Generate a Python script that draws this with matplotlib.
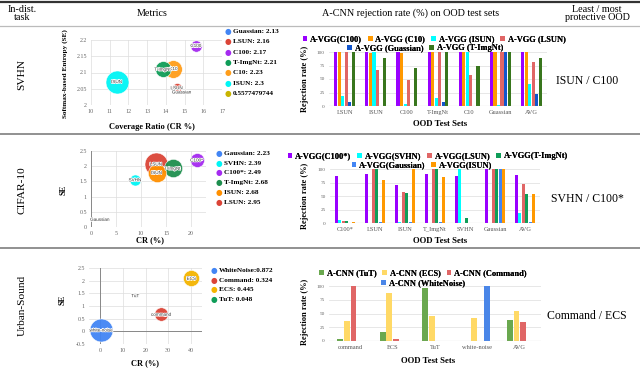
import matplotlib
matplotlib.use('Agg')
import matplotlib.pyplot as plt
from matplotlib.patches import Patch
from matplotlib.lines import Line2D
import matplotlib.patheffects as pe
import numpy as np

plt.rcParams['font.family'] = ['Liberation Serif', 'DejaVu Serif']

# ---------------- data ----------------
header = ['In-dist.\ntask', 'Metrics', 'A-CNN rejection rate (%) on OOD test sets', 'Least / most\nprotective OOD']
row_names = ['SVHN', 'CIFAR-10', 'Urban-Sound']
protective = ['ISUN / C100', 'SVHN / C100*', 'Command / ECS']

# Row 1 bubbles (SVHN)
b1_labels = ['Guassian', 'LSUN', 'C100', 'T-ImgNt', 'C10', 'ISUN']
b1_cr = [14.85, 14.58, 15.6, 13.83, 14.4, 11.37]
b1_se = [2.04, 2.053, 2.183, 2.11, 2.112, 2.072]
b1_size = [2.13, 2.16, 2.17, 2.21, 2.23, 2.3]
b1_legend = ['Guassian: 2.13', 'LSUN: 2.16', 'C100: 2.17', 'T-ImgNt: 2.21', 'C10: 2.23', 'ISUN: 2.3', '0.5577479744']
b1_colors = ['#4285f4', '#db4437', '#a52af0', '#0f9d58', '#ff9d1a', '#00f5f5', '#c8b400']

# Row 2 bubbles (CIFAR-10)
b2_labels = ['Gaussian', 'SVHN', 'C100*', 'T-ImgNt', 'ISUN', 'LSUN']
b2_cr = [1.8, 8.8, 21.1, 16.3, 13.1, 13.0]
b2_se = [0.25, 1.55, 2.2, 1.93, 1.79, 2.07]
b2_size = [2.23, 2.39, 2.49, 2.68, 2.68, 2.95]
b2_legend = ['Gaussian: 2.23', 'SVHN: 2.39', 'C100*: 2.49', 'T-ImgNt: 2.68', 'ISUN: 2.68', 'LSUN: 2.95']
b2_colors = ['#4285f4', '#00f5f5', '#a52af0', '#1e8e4e', '#ff8f00', '#db4437']

# Row 3 bubbles (Urban-Sound)
b3_labels = ['white-noise', 'command', 'ECS', 'TuT']
b3_cr = [0.5, 27.0, 40.3, 15.5]
b3_se = [0.05, 0.67, 2.09, 1.41]
b3_size = [0.872, 0.324, 0.445, 0.048]
b3_legend = ['WhiteNoise:0.872', 'Command: 0.324', 'ECS: 0.445', 'TuT: 0.048']
b3_colors = ['#4285f4', '#db4437', '#f4b400', '#0f9d58']

# Row 1 bars
r1_cats = ['LSUN', 'ISUN', 'C100', 'T-ImgNt', 'C10', 'Guassian', 'AVG']
r1_series = ['A-VGG(C100)', 'A-VGG (C10)', 'A-VGG (ISUN)', 'A-VGG (LSUN)', 'A-VGG (Guassian)', 'A-VGG (T-ImgNt)']
r1_colors = ['#9900ff', '#ff9900', '#00ffff', '#e06666', '#1155cc', '#38761d']
r1_c100 = [100, 100, 100, 100, 100, 100, 100]
r1_c10 = [100, 99, 98, 100, 100, 100, 100]
r1_isun = [18, 100, 3, 15, 100, 2, 40]
r1_lsun = [100, 67, 49, 100, 57, 100, 82]
r1_gauss = [8, 0, 0, 7, 0, 100, 22]
r1_timg = [100, 89, 70, 100, 74, 100, 88]

# Row 2 bars
r2_cats = ['C100*', 'LSUN', 'ISUN', 'T_ImgNt', 'SVHN', 'Gaussian', 'AVG']
r2_series = ['A-VGG(C100*)', 'A-VGG(SVHN)', 'A-VGG(LSUN)', 'A-VGG(T-ImgNt)', 'A-VGG(Gaussian)', 'A-VGG(ISUN)']
r2_colors = ['#9900ff', '#00ffff', '#e06666', '#0f9d58', '#4285f4', '#ff9900']
r2_c100 = [87, 91, 70, 91, 87, 100, 88]
r2_svhn = [5, 0, 2, 0, 100, 0, 18]
r2_lsun = [3, 100, 58, 100, 0, 100, 72]
r2_timg = [4, 100, 55, 100, 10, 100, 54]
r2_gauss = [0, 2, 1, 2, 0, 100, 1]
r2_isun = [2, 80, 100, 85, 0, 100, 53]

# Row 3 bars
r3_cats = ['command', 'ECS', 'TuT', 'white-noise', 'AVG']
r3_series = ['A-CNN (TuT)', 'A-CNN (ECS)', 'A-CNN (Command)', 'A-CNN (WhiteNoise)']
r3_colors = ['#6aa84f', '#ffd966', '#e06666', '#4a86e8']
r3_tut = [4, 16, 97, 0, 39]
r3_ecs = [36, 87, 45, 42, 55]
r3_cmd = [100, 4, 0, 0, 35]
r3_wn = [0, 0, 0, 100, 0]

# ---------------- figure ----------------
W, H = 640, 378
fig = plt.figure(figsize=(6.4, 3.78), dpi=100)

def fx(x):
    return x / W

def fy(y):
    return 1 - y / H

def ax_px(x0, y0, x1, y1):
    return fig.add_axes([x0 / W, 1 - y1 / H, (x1 - x0) / W, (y1 - y0) / H])

# table lines
for y, c, lw in [(1.5, '#333333', 1.6), (26, '#bbbbbb', 0.9), (134, '#888888', 1.3), (248, '#888888', 1.3)]:
    fig.add_artist(Line2D([0, 1], [fy(y), fy(y)], color=c, lw=lw, transform=fig.transFigure))

# header
hx = [22, 152, 411, 597]
for x, t in zip(hx, header):
    fig.text(fx(x), fy(13.5), t, ha='center', va='center', fontsize=7.3, linespacing=0.95)

row_y = [75, 190, 305]
for y, t in zip(row_y, row_names):
    fig.text(fx(22), fy(y), t, ha='center', va='center', rotation=90, fontsize=8.2)

prot_y = [81, 199, 316]
for y, t in zip(prot_y, protective):
    fig.text(fx(587), fy(y), t, ha='center', va='center', fontsize=8.5)

TICK_C = '#666666'


def bubble(box, cr, se, sizes, labels, colors, legend, leg_x, leg_y0, leg_dy,
           xlim, ylim, xticks, yticks, xlabel, xlab_pos, ylabel, ylab_pos, base_lines=False):
    ax = ax_px(*box)
    ax.set_xlim(*xlim)
    ax.set_ylim(*ylim)
    ax.set_xticks(xticks)
    ax.set_yticks(yticks)
    ax.set_xticklabels([('%g' % v) for v in xticks], fontsize=4.3, color=TICK_C)
    ax.set_yticklabels([('%g' % v) for v in yticks], fontsize=4.3, color=TICK_C)
    ax.tick_params(length=0, pad=3)
    for s in ax.spines.values():
        s.set_visible(False)
    ax.grid(True, color='#dddddd', lw=0.5)
    ax.set_axisbelow(True)
    if base_lines:
        ax.axhline(0, color='#888888', lw=0.7, zorder=1)
        ax.axvline(0, color='#888888', lw=0.7, zorder=1)
    v = np.array(sizes, dtype=float)
    t = (v - v.min()) / (v.max() - v.min())
    rmin, rmax = 1.2, 11.5
    r = np.sqrt(rmin ** 2 + (rmax ** 2 - rmin ** 2) * t)
    s = (2 * r * 0.72) ** 2
    order = np.argsort(-v, kind='stable')
    for i in order:
        ax.scatter(cr[i], se[i], s=s[i], color=colors[i], alpha=0.95, edgecolor='white',
                   linewidth=0.4, zorder=3, clip_on=False)
    for i in order:
        ax.text(cr[i], se[i], labels[i], fontsize=3.3, ha='center', va='center', color='#333333',
                family='Liberation Sans', zorder=4,
                path_effects=[pe.withStroke(linewidth=1.0, foreground='white')])
    for k, lab in enumerate(legend):
        yy = leg_y0 + k * leg_dy
        fig.text(fx(leg_x), fy(yy), '\u25cf', color=colors[k], fontsize=5.5, ha='center', va='center',
                 family='DejaVu Sans')
        fig.text(fx(leg_x + 5), fy(yy), lab, fontsize=5.2, weight='bold', ha='left', va='center')
    fig.text(fx(xlab_pos[0]), fy(xlab_pos[1]), xlabel, fontsize=6, weight='bold', ha='center', va='center')
    fig.text(fx(ylab_pos[0]), fy(ylab_pos[1]), ylabel, fontsize=5.2 if len(ylabel) > 3 else 6,
             weight='bold', ha='center', va='center', rotation=90)
    return ax


def bars(box, cats, series, data, colors, group_frac, leg_lines, leg_y, leg_cx,
         ylab_pos, xlab_pos):
    ax = ax_px(*box)
    n = len(series)
    x = np.arange(len(cats))
    bw = group_frac / n
    for k in range(n):
        ax.bar(x - group_frac / 2 + bw * (k + 0.5), data[k], width=bw * 0.88,
               color=colors[k], zorder=3)
    ax.set_xlim(-0.5, len(cats) - 0.5)
    ax.set_ylim(0, 100)
    ax.set_yticks([0, 25, 50, 75, 100])
    ax.set_yticklabels(['0', '25', '50', '75', '100'], fontsize=3.8, color=TICK_C)
    ax.set_xticks(x)
    ax.set_xticklabels(cats, fontsize=4.6, color='#555555')
    ax.tick_params(length=0, pad=3)
    for s in ax.spines.values():
        s.set_visible(False)
    ax.yaxis.grid(True, color='#dddddd', lw=0.5)
    ax.set_axisbelow(True)
    ax.axhline(0, color='#aaaaaa', lw=0.8, zorder=4)
    prop = {'family': 'Liberation Serif', 'weight': 'bold', 'size': 6}
    start = 0
    for li, cnt in enumerate(leg_lines):
        idx = list(range(start, start + cnt))
        start += cnt
        handles = [Patch(facecolor=colors[i], edgecolor='none') for i in idx]
        leg = fig.legend(handles, [series[i] for i in idx], loc='center',
                         bbox_to_anchor=(fx(leg_cx[li]), fy(leg_y[li])), ncol=cnt,
                         frameon=False, prop=prop, handlelength=0.55, handleheight=0.55,
                         handletextpad=0.35, columnspacing=0.7, borderpad=0, borderaxespad=0)
        fig.add_artist(leg)
    fig.text(fx(ylab_pos[0]), fy(ylab_pos[1]), 'Rejection rate (%)', fontsize=6, weight='bold',
             ha='center', va='center', rotation=90)
    fig.text(fx(xlab_pos[0]), fy(xlab_pos[1]), 'OOD Test Sets', fontsize=6.3, weight='bold',
             ha='center', va='center')
    return ax


# Row 1
bubble((91, 40, 222, 105), b1_cr, b1_se, b1_size, b1_labels, b1_colors, b1_legend,
       228, 31.7, 10.27, (10, 17), (2.0, 2.2), list(range(10, 18)),
       [2.0, 2.05, 2.1, 2.15, 2.2], 'Coverage Ratio (CR %)', (152, 127),
       'Softmax-based Entropy (SE)', (65, 74))
bars((329, 52, 547, 106), r1_cats, r1_series,
     [r1_c100, r1_c10, r1_isun, r1_lsun, r1_gauss, r1_timg], r1_colors, 0.68,
     [4, 2], [39, 48.5], [434, 425], (305, 79), (440, 124))

# Row 2
bubble((91, 151, 206, 227), b2_cr, b2_se, b2_size, b2_labels, b2_colors, b2_legend,
       219, 153.3, 9.8, (0, 23), (0, 2.5), [0, 5, 10, 15, 20],
       [0, 0.5, 1, 1.5, 2, 2.5], 'CR (%)', (150, 240), 'SE', (64, 190), base_lines=True)
bars((330, 169, 540, 223), r2_cats, r2_series,
     [r2_c100, r2_svhn, r2_lsun, r2_timg, r2_gauss, r2_isun], r2_colors, 0.68,
     [4, 2], [156, 165.5], [428, 422], (305, 196), (440, 241))

# Row 3
bubble((89, 268, 202, 344), b3_cr, b3_se, b3_size, b3_labels, b3_colors, b3_legend,
       214, 270.7, 9.55, (-5, 45), (-0.5, 2.5), [0, 10, 20, 30, 40],
       [-0.5, 0, 0.5, 1, 1.5, 2, 2.5], 'CR (%)', (145, 363), 'SE', (63, 300), base_lines=True)
bars((329, 286, 541, 341), r3_cats, r3_series,
     [r3_tut, r3_ecs, r3_cmd, r3_wn], r3_colors, 0.62,
     [3, 1], [273, 283], [423, 423], (305, 312), (428, 361))

fig.savefig('out.png', dpi=100)
